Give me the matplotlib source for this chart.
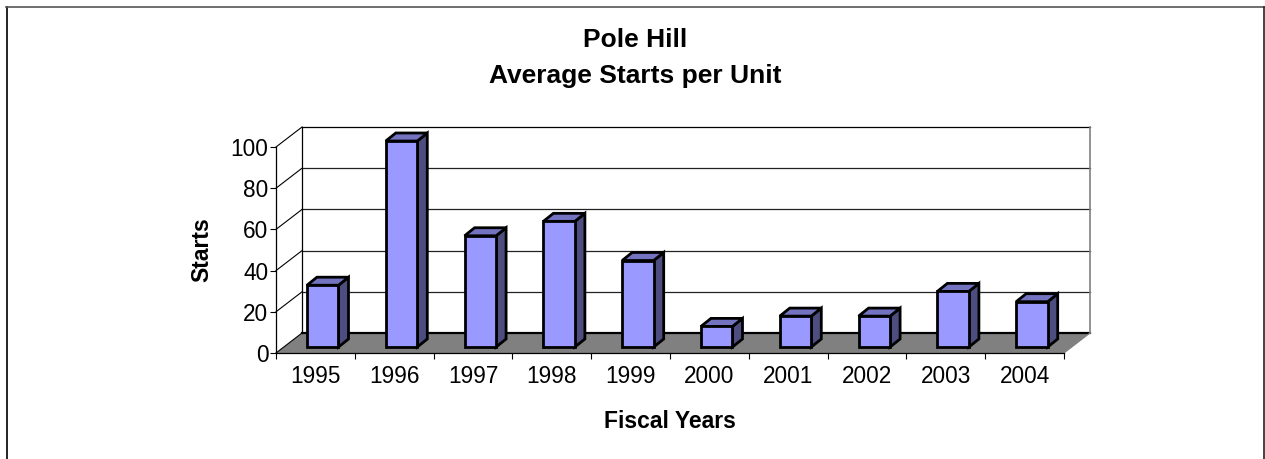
import matplotlib
matplotlib.use('Agg')
import matplotlib.pyplot as plt
from matplotlib.patches import Polygon, Rectangle

plt.rcParams['font.family'] = ['Liberation Sans', 'DejaVu Sans']

# Datos
anios = ['1995', '1996', '1997', '1998', '1999', '2000', '2001', '2002', '2003', '2004']
arranques = [30, 100, 54, 61, 42, 10, 15, 15, 27, 22]
ticks_y = [0, 20, 40, 60, 80, 100]

W, H = 1265, 459
fig = plt.figure(figsize=(W / 100, H / 100), dpi=100)

# el eje va de x=276 a x=1064 y de y=353 a y=147 en pixeles
ax = fig.add_axes([276 / W, 1 - 353 / H, 788 / W, 206 / H])
ax.set_xlim(0, len(anios))
ax.set_ylim(0, 100)
for s in ax.spines.values():
    s.set_visible(False)

# profundidad 3D en unidades de datos
fondo_x, fondo_y = 0.33, 9.7
barra_x, barra_y = 0.127, 3.9
desp_x, desp_y = 0.093, 2.9
n = len(anios)

# suelo gris
ax.add_patch(Polygon([(0, 0), (n, 0), (n + fondo_x, fondo_y), (fondo_x, fondo_y)],
                     facecolor='#808080', edgecolor='none', clip_on=False, zorder=1))
ax.plot([fondo_x, n + fondo_x], [fondo_y, fondo_y], color='black', lw=1.6, clip_on=False, zorder=2)
ax.plot([n, n + fondo_x], [0, fondo_y], color='#808080', lw=0.8, clip_on=False, zorder=2)

# pared del fondo y lineas de division
for t in ticks_y[1:]:
    yy = t + fondo_y
    ax.plot([fondo_x, n + fondo_x], [yy, yy], color='#222222' if t < 100 else 'black',
            lw=0.9, clip_on=False, zorder=2)
    ax.plot([0, fondo_x], [t, yy], color='black', lw=0.8, clip_on=False, zorder=2)
ax.plot([0, fondo_x], [0, fondo_y], color='black', lw=0.8, clip_on=False, zorder=2)
ax.plot([fondo_x, fondo_x], [fondo_y, 100 + fondo_y], color='black', lw=0.9, clip_on=False, zorder=2)
ax.plot([n + fondo_x, n + fondo_x], [fondo_y, 100 + fondo_y], color='#808080', lw=1.2, clip_on=False, zorder=2)

# ejes frontales
ax.plot([0, 0], [0, 100], color='black', lw=0.9, clip_on=False, zorder=3)
ax.plot([0, n], [0, 0], color='black', lw=0.9, clip_on=False, zorder=3)

# barras
ancho = 0.4
for i, v in enumerate(arranques):
    x0 = i + 0.5 - ancho / 2 + desp_x
    x1 = x0 + ancho
    y0 = desp_y
    y1 = desp_y + v
    borde = dict(edgecolor='black', lw=2.0, joinstyle='miter', clip_on=False, zorder=4)
    ax.add_patch(Polygon([(x1, y0), (x1 + barra_x, y0 + barra_y), (x1 + barra_x, y1 + barra_y), (x1, y1)],
                         facecolor='#4D4D80', **borde))
    ax.add_patch(Polygon([(x0, y1), (x1, y1), (x1 + barra_x, y1 + barra_y), (x0 + barra_x, y1 + barra_y)],
                         facecolor='#7373BF', **borde))
    ax.add_patch(Rectangle((x0, y0), ancho, v, facecolor='#9999FF', **borde))

ax.set_xticks(range(n + 1))
ax.set_xticklabels([])
ax.set_xticks([i + 0.5 for i in range(n)], minor=True)
ax.set_xticklabels(anios, minor=True, fontsize=16.3)
ax.tick_params(axis='x', which='major', length=4, width=0.8, direction='out')
ax.tick_params(axis='x', which='minor', length=0, pad=8.5)
ax.set_yticks(ticks_y)
ax.set_yticklabels([str(t) for t in ticks_y], fontsize=16.3)
ax.tick_params(axis='y', length=4, width=0.8, pad=1.5)

# titulos como texto de figura
fig.text(635 / W, 1 - 40 / H, 'Pole Hill', ha='center', va='center', fontsize=19, fontweight='bold')
fig.text(635 / W, 1 - 76 / H, 'Average Starts per Unit', ha='center', va='center', fontsize=19, fontweight='bold')
fig.text(670 / W, 1 - 421 / H, 'Fiscal Years', ha='center', va='center', fontsize=16.5, fontweight='bold')
fig.text(202 / W, 1 - 250 / H, 'Starts', ha='center', va='center', rotation=90, fontsize=16.5, fontweight='bold')

# marco exterior del grafico (sin linea inferior)
fig.add_artist(plt.Line2D([6.5 / W, 6.5 / W], [0, 1 - 7 / H], color='black', lw=1.2))
fig.add_artist(plt.Line2D([6 / W, 1264 / W], [1 - 7 / H, 1 - 7 / H], color='#555555', lw=1.2))
fig.add_artist(plt.Line2D([1264.3 / W, 1264.3 / W], [0, 1 - 7 / H], color='#222222', lw=1.2))

fig.savefig('out.png', dpi=100)
